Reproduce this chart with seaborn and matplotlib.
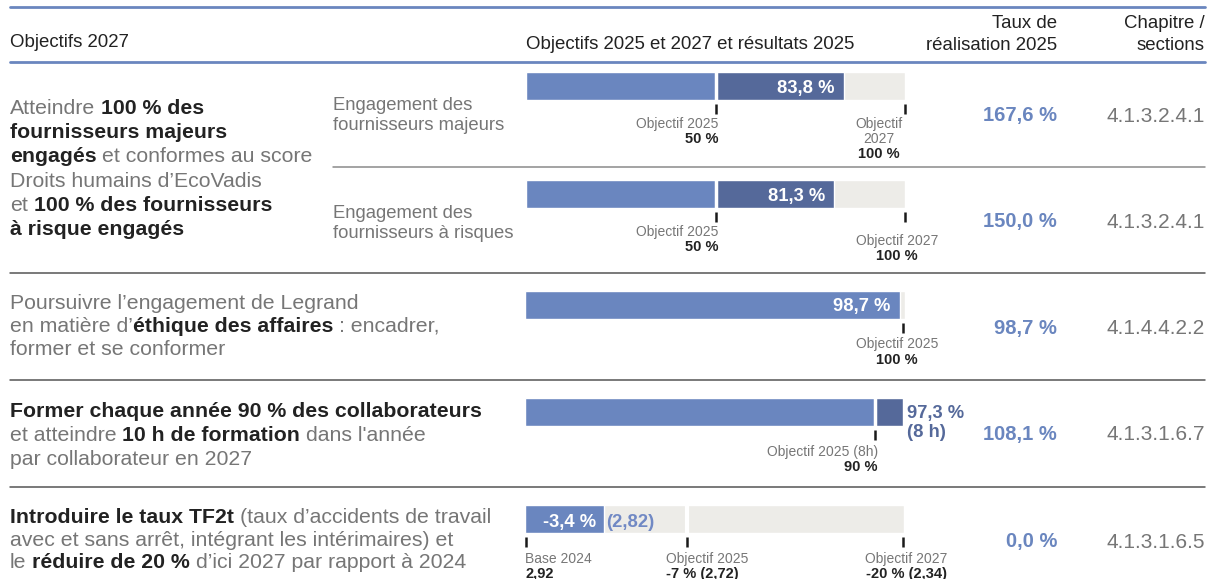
import numpy as np
import matplotlib
matplotlib.use('Agg')
import matplotlib.pyplot as plt
import seaborn as sns

# ------------------------------------------------------------------
# Données
# ------------------------------------------------------------------
lignes_objectifs = [
    # lignes 1-2 (bloc commun)
    ["Atteindre **100 % des**",
     "**fournisseurs majeurs**",
     "**engagés** et conformes au score",
     "Droits humains d\u2019EcoVadis",
     "et **100 % des fournisseurs**",
     "**à risque engagés**"],
    ["Poursuivre l\u2019engagement de Legrand",
     "en matière d\u2019**éthique des affaires** : encadrer,",
     "former et se conformer"],
    ["**Former chaque année 90 % des collaborateurs**",
     "et atteindre **10 h de formation** dans l'année",
     "par collaborateur en 2027"],
    ["**Introduire le taux TF2t** (taux d\u2019accidents de travail",
     "avec et sans arrêt, intégrant les intérimaires) et",
     "le **réduire de 20 %** d\u2019ici 2027 par rapport à 2024"],
]
indicateurs = ["Engagement des\nfournisseurs majeurs",
               "Engagement des\nfournisseurs à risques"]

resultats_2025 = [83.8, 81.3, 98.7, 97.3]
objectifs_2025 = [50, 50, 100, 90]
objectifs_2027 = [100, 100]
heures_2025 = 8

# TF2t : réduction en % par rapport à 2024
tf2t_base = 2.92
tf2t_2025 = 2.82
tf2t_reduction = 3.4
tf2t_obj_red = [7, 20]
tf2t_obj_val = [2.72, 2.34]

taux_realisation = [167.6, 150.0, 98.7, 108.1, 0.0]
chapitres = ["4.1.3.2.4.1", "4.1.3.2.4.1", "4.1.4.4.2.2",
             "4.1.3.1.6.7", "4.1.3.1.6.5"]


def fr(v, d=1):
    return f"{v:.{d}f}".replace('.', ',')


# ------------------------------------------------------------------
# Style
# ------------------------------------------------------------------
sns.set_theme(style="white")
plt.rcParams['font.family'] = ['Liberation Sans', 'DejaVu Sans']

BLEU = '#6a86bf'
BLEU_F = '#55699a'
GRIS_BARRE = '#edece8'
GRIS_TXT = '#767676'
NOIR = '#222222'
T_ENTETE = 13.4

W, H = 1210, 579
fig = plt.figure(figsize=(W / 100, H / 100), dpi=100)
ov = fig.add_axes([0, 0, 1, 1])
ov.set_xlim(0, W)
ov.set_ylim(H, 0)
ov.axis('off')
ov.set_zorder(10)
renderer = fig.canvas.get_renderer()


def largeur(txt, size, bold):
    t = ov.text(0, 0, txt, fontsize=size, fontweight='bold' if bold else 'normal')
    w = t.get_window_extent(renderer).width
    t.remove()
    return w


def riche(x, y, ligne, size=15.35):
    esp = {b: largeur("x x", size, b) - largeur("xx", size, b) for b in (False, True)}
    cx = x
    for i, morceau in enumerate(ligne.split('**')):
        if not morceau:
            continue
        gras = i % 2 == 1
        nl = len(morceau) - len(morceau.lstrip(' '))
        nt = len(morceau) - len(morceau.rstrip(' '))
        cx += nl * esp[gras]
        coeur = morceau.strip(' ')
        t = ov.text(cx, y, coeur, fontsize=size, va='baseline', ha='left',
                    fontweight='bold' if gras else 'normal',
                    color=NOIR if gras else GRIS_TXT)
        cx += t.get_window_extent(renderer).width + nt * esp[gras]


def barre_axes(x0, x1, y0, y1, xmax):
    ax = fig.add_axes([x0 / W, 1 - y1 / H, (x1 - x0) / W, (y1 - y0) / H])
    ax.set_xlim(0, xmax)
    ax.set_ylim(-0.5, 0.5)
    ax.axis('off')
    return ax


def px(ax, v):
    return ax.transData.transform((v, 0))[0]


def repere(ax, v):
    ax.plot([v, v], [-0.5 - 4 / 28, -1.0], color='#1a1a1a', lw=1.8,
            clip_on=False, solid_capstyle='butt')


def petit(x, y, txt, ha, gras=False):
    ov.text(x, y, txt, fontsize=10.5 if gras else 10, ha=ha, va='baseline',
            fontweight='bold' if gras else 'normal',
            color=NOIR if gras else GRIS_TXT)


# ------------------------------------------------------------------
# En-tête et séparateurs
# ------------------------------------------------------------------
ov.plot([10, 1205], [7, 7], color=BLEU, lw=2)
ov.plot([10, 1205], [62, 62], color=BLEU, lw=2)
ov.text(10, 47, "Objectifs 2027", fontsize=T_ENTETE, color=NOIR, va='baseline')
ov.text(526, 49, "Objectifs 2025 et 2027 et résultats 2025", fontsize=T_ENTETE,
        color=NOIR, va='baseline')
ov.text(1057, 28, "Taux de", fontsize=T_ENTETE, color=NOIR, va='baseline', ha='right')
ov.text(1057, 50, "réalisation 2025", fontsize=T_ENTETE, color=NOIR, va='baseline', ha='right')
ov.text(1205, 28, "Chapitre /", fontsize=T_ENTETE, color=NOIR, va='baseline', ha='right')
ov.text(1205, 50, "sections", fontsize=T_ENTETE, color=NOIR, va='baseline', ha='right')

ov.plot([333, 1205], [167, 167], color='#8a8a8a', lw=1.1)
for y in [273, 380, 487]:
    ov.plot([10, 1205], [y, y], color='#555555', lw=1.1)

# ------------------------------------------------------------------
# Texte des objectifs
# ------------------------------------------------------------------
for bloc, (y0, pas) in zip(lignes_objectifs, [(114, 24.2), (309, 23), (417, 24), (523, 22.6)]):
    for k, ligne in enumerate(bloc):
        riche(10, y0 + k * pas, ligne)

for lab, y0 in zip(indicateurs, [110.5, 217.5]):
    for k, l in enumerate(lab.split('\n')):
        ov.text(333, y0 + k * 20, l, fontsize=13.3, color=GRIS_TXT, va='baseline')

# ------------------------------------------------------------------
# Barres lignes 1 et 2
# ------------------------------------------------------------------
for i, y0 in enumerate([72, 180]):
    ax = barre_axes(526, 905, y0, y0 + 28, 100)
    ax.barh(0, 100, height=1, color=GRIS_BARRE)
    ax.barh(0, objectifs_2025[i], height=1, color=BLEU)
    ax.barh(0, resultats_2025[i] - objectifs_2025[i], left=objectifs_2025[i],
            height=1, color=BLEU_F)
    ax.axvline(objectifs_2025[i], color='white', lw=2.5)
    repere(ax, objectifs_2025[i])
    repere(ax, objectifs_2027[i])
    xr = px(ax, resultats_2025[i])
    ov.text(xr - 9, y0 + 20.5, f"{fr(resultats_2025[i])} %", fontsize=13.2,
            fontweight='bold', color='white', ha='right', va='baseline')
    x25 = px(ax, objectifs_2025[i])
    x27 = px(ax, objectifs_2027[i])
    yb = y0 + 28
    petit(x25 + 3, yb + 28, "Objectif 2025", 'right')
    petit(x25 + 3, yb + 43, f"{objectifs_2025[i]} %", 'right', True)
    if i == 0:
        petit(x27 - 26, yb + 28, "Objectif", 'center')
        petit(x27 - 26, yb + 43, "2027", 'center')
        petit(x27 - 26, yb + 58, f"{objectifs_2027[i]} %", 'center', True)
    else:
        petit(x27 - 8, yb + 37, "Objectif 2027", 'center')
        petit(x27 - 8, yb + 52, f"{objectifs_2027[i]} %", 'center', True)

# ------------------------------------------------------------------
# Ligne 3 : éthique des affaires
# ------------------------------------------------------------------
ax = barre_axes(525, 905, 291, 319, 100)
ax.barh(0, 100, height=1, color=GRIS_BARRE)
ax.barh(0, resultats_2025[2], height=1, color=BLEU)
repere(ax, objectifs_2025[2] - 0.5)
xr = px(ax, resultats_2025[2])
ov.text(xr - 10, 311.5, f"{fr(resultats_2025[2])} %", fontsize=13.2,
        fontweight='bold', color='white', ha='right', va='baseline')
xo = px(ax, objectifs_2025[2])
petit(xo - 8, 348, "Objectif 2025", 'center')
petit(xo - 8, 364, f"{objectifs_2025[2]} %", 'center', True)

# ------------------------------------------------------------------
# Ligne 4 : formation
# ------------------------------------------------------------------
ax = barre_axes(525, 903, 398, 426, resultats_2025[3])
ax.barh(0, objectifs_2025[3], height=1, color=BLEU)
ax.barh(0, resultats_2025[3] - objectifs_2025[3], left=objectifs_2025[3],
        height=1, color=BLEU_F)
ax.axvline(objectifs_2025[3], color='white', lw=2.5)
repere(ax, objectifs_2025[3])
xr = px(ax, resultats_2025[3])
ov.text(xr + 4, 418, f"{fr(resultats_2025[3])} %", fontsize=13.2,
        fontweight='bold', color=BLEU_F, ha='left', va='baseline')
ov.text(xr + 4, 437, f"({heures_2025} h)", fontsize=13.2,
        fontweight='bold', color=BLEU_F, ha='left', va='baseline')
xo = px(ax, objectifs_2025[3])
petit(xo + 3, 456, f"Objectif 2025 ({heures_2025}h)", 'right')
petit(xo + 3, 471, f"{objectifs_2025[3]} %", 'right', True)

# ------------------------------------------------------------------
# Ligne 5 : TF2t (échelle rompue à l'objectif 2025)
# ------------------------------------------------------------------
POS_2025 = 0.427
def avant(r):
    return np.interp(r, [0, tf2t_obj_red[0], tf2t_obj_red[1]], [0, POS_2025, 1])
def arriere(f):
    return np.interp(f, [0, POS_2025, 1], [0, tf2t_obj_red[0], tf2t_obj_red[1]])

ax = fig.add_axes([525 / W, 1 - 533 / H, 379 / W, 28 / H])
ax.set_xscale('function', functions=(avant, arriere))
ax.set_xlim(0, tf2t_obj_red[1])
ax.set_ylim(-0.5, 0.5)
ax.axis('off')
ax.barh(0, tf2t_obj_red[1], height=1, color=GRIS_BARRE)
ax.barh(0, tf2t_reduction, height=1, color=BLEU)
ax.axvline(tf2t_obj_red[0], color='white', lw=3)
repere(ax, 0.05)
repere(ax, tf2t_obj_red[0])
repere(ax, tf2t_obj_red[1] - 0.05)
xr = px(ax, tf2t_reduction)
ov.text(xr - 7, 527, f"-{fr(tf2t_reduction)} %", fontsize=13.2,
        fontweight='bold', color='white', ha='right', va='baseline')
ov.text(xr + 3, 527, f"({fr(tf2t_2025, 2)})", fontsize=13.2,
        fontweight='bold', color='#7189c4', ha='left', va='baseline')
x0 = px(ax, 0)
x25 = px(ax, tf2t_obj_red[0])
x27 = px(ax, tf2t_obj_red[1])
petit(x0, 563, "Base 2024", 'left')
petit(x0, 578, fr(tf2t_base, 2), 'left', True)
petit(x25 - 21, 563, "Objectif 2025", 'left')
petit(x25 - 21, 578, f"-{tf2t_obj_red[0]} % ({fr(tf2t_obj_val[0], 2)})", 'left', True)
petit(x27 + 43, 563, "Objectif 2027", 'right')
petit(x27 + 43, 578, f"-{tf2t_obj_red[1]} % ({fr(tf2t_obj_val[1], 2)})", 'right', True)

# ------------------------------------------------------------------
# Taux de réalisation et chapitres
# ------------------------------------------------------------------
for yc, taux, chap in zip([114, 220, 327, 433, 540], taux_realisation, chapitres):
    ov.text(1057, yc + 7, f"{fr(taux)} %", fontsize=14.5, fontweight='bold',
            color=BLEU, ha='right', va='baseline')
    ov.text(1205, yc + 7.5, chap, fontsize=15, color=GRIS_TXT,
            ha='right', va='baseline')

fig.savefig('out.png', dpi=100)
